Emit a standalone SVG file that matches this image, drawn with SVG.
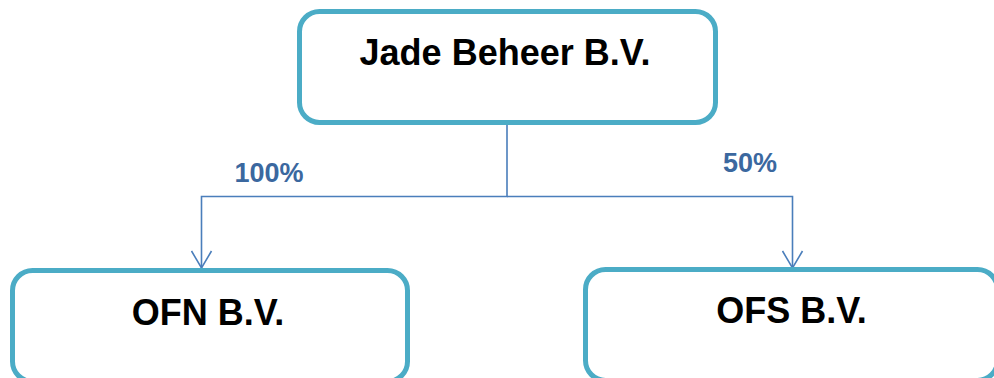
<svg xmlns="http://www.w3.org/2000/svg" width="994" height="378" viewBox="0 0 994 378">
<defs>
<style>
.box{fill:#fff;stroke:#4bacc6;stroke-width:5}
.name{font-family:"Liberation Sans",Arial,sans-serif;font-weight:bold;font-size:36px;fill:#000;text-anchor:middle}
.pct{font-family:"Liberation Sans",Arial,sans-serif;font-weight:bold;font-size:27px;fill:#3b689f;text-anchor:middle}
.conn{fill:none;stroke:#4a7ebb;stroke-width:1.6}
</style>
<marker id="arr" markerWidth="24" markerHeight="20" refX="11" refY="18" orient="0" markerUnits="userSpaceOnUse">
<path d="M1,1 L11,18 L21,1" fill="none" stroke="#4a7ebb" stroke-width="1.6"/>
</marker>
</defs>
<rect width="994" height="378" fill="#fff"/>
<g id="connectors">
<path class="conn" d="M507,125 V196.5 H201.5 V268" marker-end="url(#arr)"/>
<path class="conn" d="M507,196.5 H792.5 V268" marker-end="url(#arr)"/>
<text class="pct" x="269" y="182">100%</text>
<text class="pct" x="750" y="172">50%</text>
</g>
<g id="node-jade">
<rect class="box" x="299.5" y="11.5" width="416" height="111" rx="20"/>
<text class="name" x="505" y="65">Jade Beheer B.V.</text>
</g>
<g id="node-ofn">
<rect class="box" x="12.5" y="270.5" width="395" height="111" rx="20"/>
<text class="name" x="208" y="325">OFN B.V.</text>
</g>
<g id="node-ofs">
<rect class="box" x="585.5" y="269.5" width="412" height="111" rx="20"/>
<text class="name" x="791.5" y="323">OFS B.V.</text>
</g>
</svg>
